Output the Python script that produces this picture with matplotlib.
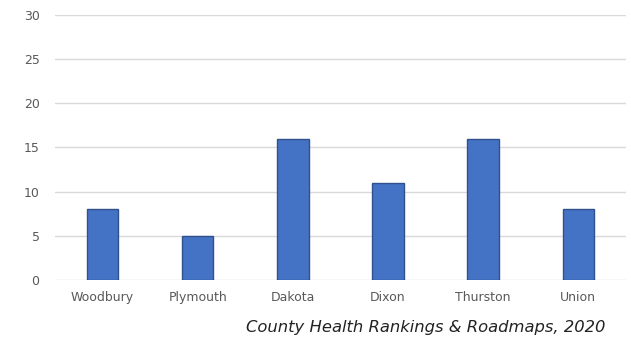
import matplotlib.pyplot as plt

counties = ['Woodbury', 'Plymouth', 'Dakota', 'Dixon', 'Thurston', 'Union']
values = [8, 5, 16, 11, 16, 8]
y_ticks = [0, 5, 10, 15, 20, 25, 30]

fig = plt.figure(figsize=(6.31, 3.41), dpi=100)
ax = fig.add_axes([0.087, 0.179, 0.905, 0.777])

ax.bar(range(len(counties)), values, width=0.33, color='#4472C4',
       edgecolor='#2F528F', linewidth=1, zorder=3)

ax.set_xlim(-0.5, len(counties) - 0.5)
ax.set_ylim(0, 30)
ax.set_yticks(y_ticks)
ax.set_xticks(range(len(counties)))
ax.set_xticklabels(counties)
ax.grid(axis='y', color='#D9D9D9', linewidth=1, zorder=0)
ax.tick_params(length=0, labelsize=9, colors='#595959', pad=8)
ax.tick_params(axis='y', pad=11)
for s in ax.spines.values():
    s.set_visible(False)

fig.text(0.96, 0.04, 'County Health Rankings & Roadmaps, 2020', ha='right',
         va='center', fontsize=11.8, style='italic', color='#222222')

fig.savefig('out.png', dpi=100)
